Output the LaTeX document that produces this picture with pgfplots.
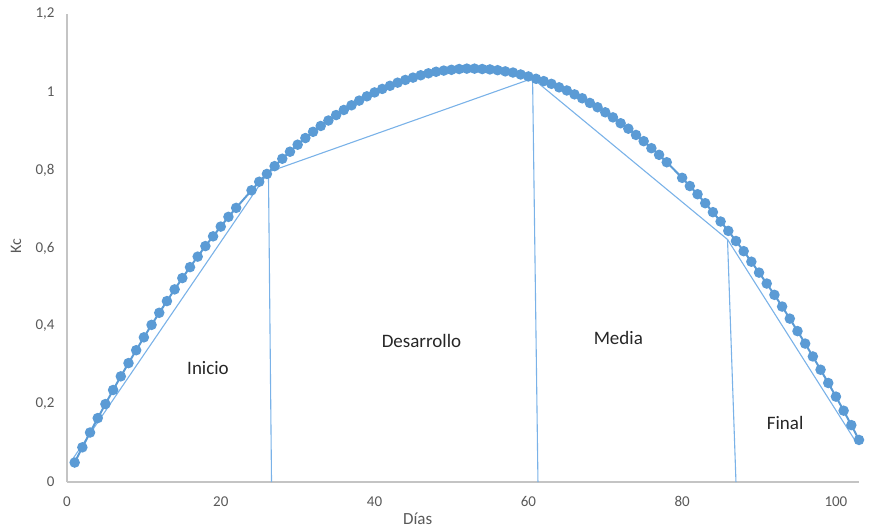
\documentclass[border=0pt]{standalone}
\usepackage{pgfplots}
\pgfplotsset{compat=1.18}
\usepackage{fontspec}
\setmainfont{Carlito}
\definecolor{serie}{HTML}{5B9BD5}
\definecolor{stageblue}{HTML}{7AB2E8}
\definecolor{ticktext}{HTML}{595959}
\definecolor{axisgray}{HTML}{C4C4C4}
\definecolor{lbl}{HTML}{262626}
\begin{document}
\begin{tikzpicture}
\begin{axis}[
  scale only axis,
  width=792bp, height=468bp,
  xmin=0, xmax=103, ymin=0, ymax=1.2,
  axis x line=bottom, axis y line=left,
  axis line style={-, draw=axisgray, line width=1.2bp},
  major tick length=0pt,
  xtick={0,20,40,60,80,100},
  ytick={0,0.2,0.4,0.6,0.8,1,1.2},
  /pgf/number format/assume math mode=true,
  /pgf/number format/use comma,
  /pgf/number format/1000 sep={},
  tick label style={font=\fontsize{15bp}{18bp}\selectfont, text=ticktext},
  xticklabel style={yshift=-11bp},
  yticklabel style={xshift=-9bp},
  clip=false,
]
\coordinate (bl) at (axis cs:-8.71,-0.1205);
\coordinate (tr) at (axis cs:105.6,1.236);

% stage lines
\addplot[draw=stageblue, line width=1.1bp] coordinates {(0.5,0.052) (26.2,0.795)};
\addplot[draw=stageblue, line width=1.1bp] coordinates {(26.2,0.795) (26.6,0)};
\addplot[draw=stageblue, line width=1.1bp] coordinates {(26.2,0.795) (60.55,1.035)};
\addplot[draw=stageblue, line width=1.1bp] coordinates {(60.55,1.035) (61.25,0)};
\addplot[draw=stageblue, line width=1.1bp] coordinates {(60.55,1.035) (85.9,0.622)};
\addplot[draw=stageblue, line width=1.1bp] coordinates {(85.9,0.622) (87.0,0)};
\addplot[draw=stageblue, line width=1.1bp] coordinates {(85.9,0.622) (102.7,0.100)};

% Kc series
\addplot[serie, line width=2bp, mark=*, mark size=4.2bp, mark options={fill=serie, draw=serie}] coordinates {
(1,0.050) (2,0.089) (3,0.127) (4,0.164) (5,0.200) (6,0.236) (7,0.271) (8,0.305)
(9,0.338) (10,0.371) (11,0.403) (12,0.434) (13,0.464) (14,0.494) (15,0.523)
(16,0.551) (17,0.578) (18,0.605) (19,0.630) (20,0.655) (21,0.680) (22,0.703)
(24,0.748) (25,0.770) (26,0.790) (27,0.810) (28,0.829) (29,0.847) (30,0.865)
(31,0.882) (32,0.898) (33,0.913) (34,0.927) (35,0.941) (36,0.954) (37,0.966)
(38,0.978) (39,0.989) (40,0.999) (41,1.008) (42,1.016) (43,1.024) (44,1.031)
(45,1.037) (46,1.043) (47,1.048) (48,1.052) (49,1.055) (50,1.057) (51,1.059)
(52,1.060) (53,1.060) (54,1.059) (55,1.058) (56,1.056) (57,1.053) (58,1.050)
(59,1.045) (60,1.040) (61,1.034) (62,1.028) (63,1.021) (64,1.012) (65,1.004)
(66,0.994) (67,0.984) (68,0.972) (69,0.961) (70,0.948) (71,0.935) (72,0.920)
(73,0.906) (74,0.890) (75,0.874) (76,0.856) (77,0.839) (78,0.820)
(80,0.780) (81,0.759) (82,0.738) (83,0.715) (84,0.692) (85,0.668) (86,0.644)
(87,0.618) (88,0.592) (89,0.565) (90,0.537) (91,0.509) (92,0.480) (93,0.450)
(94,0.419) (95,0.387) (96,0.355) (97,0.322) (98,0.288) (99,0.254) (100,0.219)
(101,0.183) (102,0.146) (103,0.108)
};

\node[font=\fontsize{19bp}{22bp}\selectfont, text=lbl] at (axis cs:18.34,0.292) {Inicio};
\node[font=\fontsize{19bp}{22bp}\selectfont, text=lbl] at (axis cs:46.1,0.362) {Desarrollo};
\node[font=\fontsize{19bp}{22bp}\selectfont, text=lbl] at (axis cs:71.7,0.369) {Media};
\node[font=\fontsize{19bp}{22bp}\selectfont, text=lbl] at (axis cs:93.4,0.152) {Final};

\node[font=\fontsize{17bp}{20bp}\selectfont, text=ticktext] at (axis cs:45.6,-0.095) {Días};
\node[font=\fontsize{16bp}{19bp}\selectfont, text=ticktext, rotate=90] at (axis cs:-6.63,0.605) {Kc};
\end{axis}
\pgfresetboundingbox
\path[use as bounding box] (bl) rectangle (tr);
\end{tikzpicture}
\end{document}
